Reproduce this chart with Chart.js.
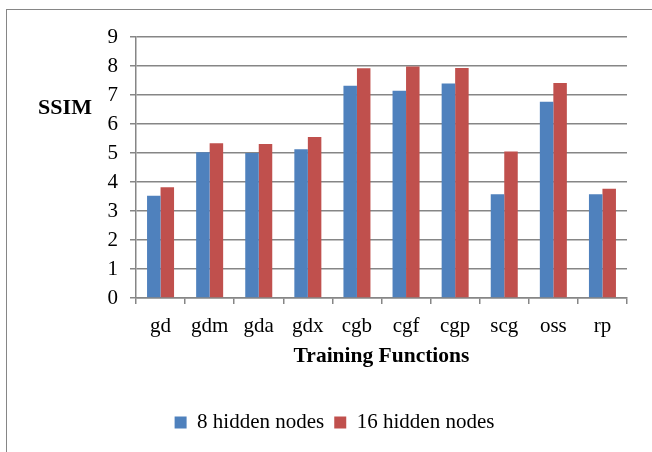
<!DOCTYPE html>
<html>
<head>
<meta charset="utf-8">
<script src="https://cdn.jsdelivr.net/npm/chart.js@4/dist/chart.umd.min.js"></script>
<style>
  html, body { margin: 0; padding: 0; background: #fff; }
  #wrap { position: relative; width: 652px; height: 452px; overflow: hidden; }
  #frame { position: absolute; left: 6px; top: 9px; width: 700px; height: 500px;
           border-left: 1px solid #868686; border-top: 1px solid #868686; }
  #myChart { position: absolute; left: 0; top: 0; }
</style>
</head>
<body>
<div id="wrap">
  <div id="frame"></div>
  <canvas id="myChart" width="652" height="452"></canvas>
</div>
<script>
const categories = ['gd', 'gdm', 'gda', 'gdx', 'cgb', 'cgf', 'cgp', 'scg', 'oss', 'rp'];
const hidden8 = [3.53, 5.03, 5.00, 5.13, 7.32, 7.15, 7.40, 3.58, 6.77, 3.58];
const hidden16 = [3.82, 5.34, 5.31, 5.55, 7.92, 7.98, 7.93, 5.05, 7.41, 3.77];
const yMin = 0;
const yMax = 9;

const serif = "'Liberation Serif', 'Times New Roman', serif";
const gridColor = '#868686';

// horizontal "SSIM" label left of the y axis, like the Excel original
const ssimLabel = {
  id: 'ssimLabel',
  afterDraw(chart) {
    const ctx = chart.ctx;
    ctx.save();
    ctx.font = 'bold 22px ' + serif;
    ctx.fillStyle = '#000';
    ctx.textAlign = 'center';
    ctx.textBaseline = 'middle';
    ctx.fillText('SSIM', 65, 108);
    ctx.restore();
  }
};

const ctx = document.getElementById('myChart').getContext('2d');

new Chart(ctx, {
  type: 'bar',
  data: {
    labels: categories,
    datasets: [
      {
        label: '8 hidden nodes',
        data: hidden8,
        backgroundColor: '#4F81BD',
        borderWidth: 0
      },
      {
        label: '16 hidden nodes',
        data: hidden16,
        backgroundColor: '#C0504D',
        borderWidth: 0
      }
    ]
  },
  options: {
    responsive: false,
    animation: false,
    categoryPercentage: 0.55,
    barPercentage: 1.0,
    // left padding keeps the legend centred like the original
    layout: { padding: { left: 42, right: 25, top: 37, bottom: 9 } },
    plugins: {
      legend: {
        position: 'bottom',
        labels: {
          boxWidth: 12,
          boxHeight: 12,
          padding: 10,
          color: '#000',
          font: { family: serif, size: 21 }
        }
      },
      tooltip: { enabled: false }
    },
    scales: {
      x: {
        afterFit(scale) { scale.height = 104; },
        grid: { drawOnChartArea: false, drawTicks: true, tickLength: 6, color: gridColor, lineWidth: 1.5 },
        border: { display: true, color: gridColor, width: 1.5 },
        ticks: { color: '#000', padding: 10, font: { family: serif, size: 21 } },
        title: {
          display: true,
          text: 'Training Functions',
          color: '#000',
          font: { family: serif, size: 21.5, weight: 'bold' },
          padding: { top: 0, bottom: 33 }
        }
      },
      y: {
        min: yMin,
        max: yMax,
        afterFit(scale) { scale.width = 94; },
        grid: { color: gridColor, lineWidth: 1.5, drawTicks: true, tickLength: 6 },
        border: { display: true, color: gridColor, width: 1.5 },
        ticks: { stepSize: 1, color: '#000', padding: 12, font: { family: serif, size: 21 } }
      }
    }
  },
  plugins: [ssimLabel]
});
</script>
</body>
</html>
